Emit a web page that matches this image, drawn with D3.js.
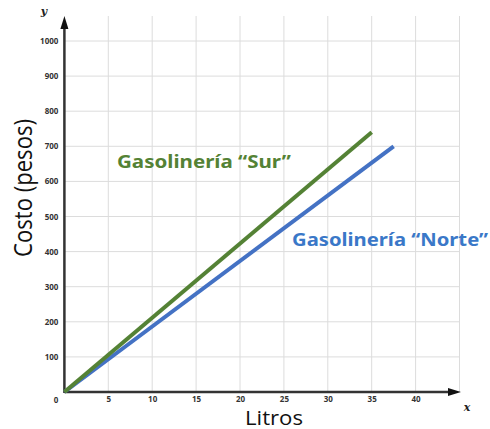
<!DOCTYPE html>
<html><head><meta charset="utf-8">
<script src="https://cdn.jsdelivr.net/npm/d3@7"></script>
<style>body{margin:0;background:#fff}svg{display:block}</style>
</head><body>
<script>
const xTicks = [5,10,15,20,25,30,35,40];
const yTicks = [100,200,300,400,500,600,700,800,900,1000];
const seriesNames = ["Gasolinería “Sur”", "Gasolinería “Norte”"];
const surLitros = [0, 35];
const surCosto = [0, 740];
const norteLitros = [0, 37.5];
const norteCosto = [0, 700];

const W = 490, H = 429;
const svg = d3.select("body").append("svg").attr("width", W).attr("height", H);
const x = d3.scaleLinear().domain([0, 45]).range([64.4, 459.5]);
const y = d3.scaleLinear().domain([0, 1000]).range([392, 41]);

// grid
const gridX = d3.range(5, 46, 5);
const gridY = d3.range(100, 1001, 100);
svg.append("g").selectAll("line").data(gridX).join("line")
  .attr("x1", d => x(d)).attr("x2", d => x(d)).attr("y1", 16).attr("y2", y(0))
  .attr("stroke", "#dcdcdc").attr("stroke-width", 1);
svg.append("g").selectAll("line").data(gridY).join("line")
  .attr("x1", x(0)).attr("x2", x(45)).attr("y1", d => y(d)).attr("y2", d => y(d))
  .attr("stroke", "#dcdcdc").attr("stroke-width", 1);

// axes via d3
const xAxis = d3.axisBottom(x).tickValues(xTicks).tickFormat(d3.format("d")).tickSize(0).tickPadding(4);
const gx = svg.append("g").attr("transform", `translate(0,${y(0)})`).call(xAxis);
gx.select(".domain").remove();
gx.selectAll("text").attr("font-family", "Open Sans, sans-serif").attr("font-weight", "bold")
  .attr("font-size", 8).attr("fill", "#333");
const yAxis = d3.axisLeft(y).tickValues(yTicks).tickFormat(d3.format("d")).tickSize(0).tickPadding(6);
const gy = svg.append("g").attr("transform", `translate(${x(0)},0)`).call(yAxis);
gy.select(".domain").remove();
gy.selectAll("text").attr("font-family", "Open Sans, sans-serif").attr("font-weight", "bold")
  .attr("font-size", 8).attr("fill", "#333");
svg.append("text").attr("x", 56).attr("y", 403).attr("text-anchor", "middle")
  .attr("font-family", "Open Sans, sans-serif").attr("font-weight", "bold")
  .attr("font-size", 8).attr("fill", "#333").text("0");

// axis lines with arrows
svg.append("line").attr("x1", x(0)).attr("x2", 452).attr("y1", y(0)).attr("y2", y(0))
  .attr("stroke", "#333").attr("stroke-width", 2.5);
svg.append("path").attr("d", `M461,${y(0)} L448,${y(0)-4} L448,${y(0)+4} Z`).attr("fill", "#111");
svg.append("line").attr("x1", x(0)).attr("x2", x(0)).attr("y1", y(0)+1).attr("y2", 26)
  .attr("stroke", "#333").attr("stroke-width", 2.5);
svg.append("path").attr("d", `M${x(0)},16 L${x(0)-4},29 L${x(0)+4},29 Z`).attr("fill", "#111");

svg.append("text").attr("x", 44).attr("y", 15).attr("text-anchor", "middle")
  .attr("font-family", "DejaVu Serif, serif").attr("font-style", "italic").attr("font-weight", "bold")
  .attr("font-size", 11).attr("fill", "#222").text("y");
svg.append("text").attr("x", 467).attr("y", 411).attr("text-anchor", "middle")
  .attr("font-family", "DejaVu Serif, serif").attr("font-style", "italic").attr("font-weight", "bold")
  .attr("font-size", 11).attr("fill", "#222").text("x");

// lines
const line = d3.line().x(d => x(d[0])).y(d => y(d[1]));
svg.append("path").datum(d3.zip(norteLitros, norteCosto)).attr("d", line)
  .attr("fill", "none").attr("stroke", "#4472C4").attr("stroke-width", 4);
svg.append("path").datum(d3.zip(surLitros, surCosto)).attr("d", line)
  .attr("fill", "none").attr("stroke", "#548235").attr("stroke-width", 4);

// labels
svg.append("text").attr("x", 117).attr("y", 167.5)
  .attr("font-family", "Noto Sans, sans-serif").attr("font-weight", "bold")
  .attr("font-size", 18).attr("fill", "#548235")
  .attr("textLength", 174).attr("lengthAdjust", "spacingAndGlyphs").text(seriesNames[0]);
svg.append("text").attr("x", 292).attr("y", 245.5)
  .attr("font-family", "Noto Sans, sans-serif").attr("font-weight", "bold")
  .attr("font-size", 18).attr("fill", "#3a78c8")
  .attr("textLength", 196).attr("lengthAdjust", "spacingAndGlyphs").text(seriesNames[1]);

svg.append("text").attr("transform", "translate(32,188) rotate(-90)").attr("text-anchor", "middle")
  .attr("font-family", "Open Sans, sans-serif").attr("font-size", 26).attr("fill", "#111")
  .attr("textLength", 138).attr("lengthAdjust", "spacingAndGlyphs")
  .text("Costo (pesos)");
svg.append("text").attr("x", 274).attr("y", 424.5).attr("text-anchor", "middle")
  .attr("font-family", "Open Sans, sans-serif").attr("font-size", 20).attr("fill", "#111")
  .attr("textLength", 58).attr("lengthAdjust", "spacingAndGlyphs")
  .text("Litros");
</script>
</body></html>
